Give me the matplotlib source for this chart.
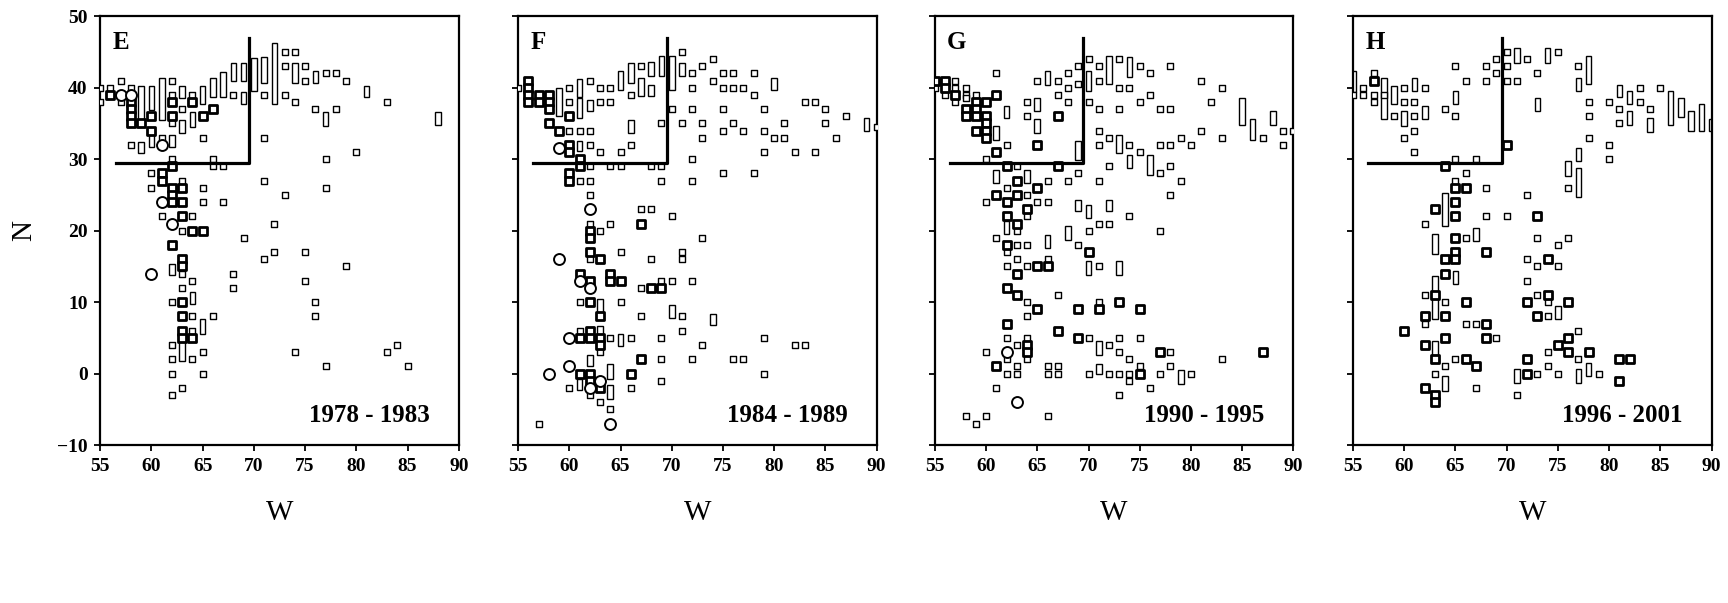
import matplotlib
matplotlib.use("Agg")
import matplotlib.pyplot as plt

plt.rcParams['font.family'] = ['Liberation Serif', 'DejaVu Serif']

# ---- panel E : 1978 - 1983 ----
e_thin = [(73, 45), (74, 45), (73, 43), (75, 43), (75, 41), (68, 39), (64, 39), (65, 33), (66, 30), (66, 29),
          (67, 29), (65, 26), (65, 24), (67, 24), (63, 37), (62, 41), (62, 39), (62, 35), (61, 33), (58, 40),
          (58, 32), (57, 41), (57, 38), (56, 40), (55, 40), (55, 38), (60, 28), (60, 26), (62, 30), (63, 27),
          (61, 22), (64, 22), (63, 20), (69, 19), (63, 14), (64, 13), (63, 12), (62, 10), (64, 8), (66, 8),
          (62, 4), (62, 2), (64, 2), (65, 3), (62, 0), (65, 0), (63, -2), (62, -3), (71, 39), (73, 39),
          (74, 38), (77, 42), (78, 42), (79, 41), (83, 38), (76, 37), (78, 37), (71, 33), (80, 31), (77, 30),
          (77, 26), (71, 27), (73, 25), (72, 21), (71, 16), (72, 17), (75, 17), (75, 13), (79, 15), (68, 14),
          (68, 12), (76, 10), (76, 8), (74, 3), (77, 1), (83, 3), (84, 4), (85, 1), (64, 6)]
e_bold = [(66, 37), (65, 36), (64, 38), (62, 38), (62, 36), (60, 36), (60, 34), (59, 35), (58, 38), (58, 37),
          (58, 36), (58, 35), (56, 39), (61, 28), (61, 27), (62, 29), (62, 26), (62, 25), (62, 24), (63, 26),
          (63, 24), (63, 22), (64, 20), (65, 20), (62, 18), (63, 16), (63, 15), (63, 10), (63, 8), (63, 6),
          (63, 5), (64, 5)]
e_circ = [(57, 39), (58, 39), (61, 32), (61, 24), (62, 21), (60, 14)]
e_bars = [(72, 37.7, 46.3), (71, 40.6, 44.3), (70, 39.6, 44.2), (69, 41, 43.4), (69, 37.7, 39.4),
          (68, 41, 43.4), (67, 38.7, 42.2), (66, 38.7, 41.3), (65, 37.7, 40.2), (64, 34.5, 36.6),
          (63, 38.6, 40.2), (63, 33.6, 35.5), (62, 31.7, 33.4), (61, 35.5, 41.3), (60, 36.9, 40.2),
          (60, 31.7, 33.8), (59, 34.5, 40.2), (59, 30.8, 32.4), (62, 13.8, 15.4), (64, 9.8, 11.4),
          (65, 5.6, 7.6), (63, 1.7, 4.7), (74, 40.6, 43.4), (76, 40.6, 42.4), (81, 38.7, 40.3),
          (88, 34.8, 36.6), (77, 34.6, 36.6)]

# ---- panel F : 1984 - 1989 ----
f_thin = [(71, 45), (74, 44), (73, 43), (72, 42), (67, 43), (66, 39), (75, 42), (76, 42), (78, 42), (74, 41),
          (75, 40), (76, 40), (77, 40), (78, 39), (72, 40), (83, 38), (84, 38), (85, 37), (85, 35), (87, 36),
          (90, 34.5), (79, 37), (76, 35), (77, 34), (81, 35), (70, 37), (72, 37), (75, 37), (69, 35), (71, 35),
          (73, 35), (73, 33), (75, 34), (79, 34), (80, 33), (81, 33), (86, 33), (79, 31), (82, 31), (84, 31),
          (72, 30), (72, 27), (69, 27), (75, 28), (78, 28), (68, 29), (69, 29), (64, 29), (65, 29), (65, 31),
          (55, 40), (60, 40), (62, 41), (63, 40), (64, 40), (60, 38), (63, 38), (64, 38), (60, 34), (61, 34),
          (62, 34), (66, 32), (62, 32), (63, 31), (62, 29), (61, 27), (62, 27), (62, 25), (67, 23), (68, 23),
          (70, 22), (62, 21), (64, 21), (63, 20), (73, 19), (71, 17), (62, 16), (65, 17), (68, 16), (71, 16),
          (67, 12), (69, 13), (70, 13), (72, 13), (61, 10), (65, 10), (71, 8), (67, 8), (61, 6), (64, 5),
          (66, 5), (71, 6), (69, 5), (79, 5), (73, 4), (82, 4), (83, 4), (63, 3), (69, 2), (72, 2), (76, 2),
          (77, 2), (79, 0), (60, -2), (66, -2), (69, -1), (62, -3), (63, -4), (64, -5), (57, -7)]
f_bold = [(56, 41), (56, 40), (56, 39), (56, 38), (57, 39), (57, 38), (58, 39), (58, 38), (58, 37), (58, 35),
          (59, 34), (60, 36), (60, 32), (60, 31), (61, 30), (61, 29), (60, 28), (60, 27), (62, 20), (62, 19),
          (62, 17), (63, 16), (67, 21), (61, 14), (64, 14), (64, 13), (65, 13), (62, 13), (68, 12), (69, 12),
          (62, 10), (63, 8), (62, 6), (62, 5), (61, 5), (63, 5), (63, 4), (67, 2), (61, 0), (62, 0), (66, 0),
          (62, -1), (63, -2)]
f_circ = [(59, 31.5), (62, 23), (59, 16), (61, 13), (62, 12), (60, 5), (60, 1), (58, 0), (62, -2), (63, -1),
          (64, -7)]
f_bars = [(71, 41.6, 43.5), (70, 39.7, 44.4), (69, 41.6, 44.4), (68, 41.6, 43.6), (66, 40.6, 43.5),
          (65, 39.7, 42.3), (67, 38.8, 41.3), (68, 38.8, 40.4), (80, 39.7, 41.4), (89, 33.9, 35.8),
          (59, 36, 39.9), (61, 38.7, 41.2), (61, 35.8, 38.6), (62, 36.7, 38.3), (66, 33.7, 35.5),
          (61, 31.2, 32.6), (63, 8, 10.5), (70, 7.8, 9.6), (74, 6.8, 8.4), (63, 4, 6.6), (65, 3.8, 5.5),
          (64, -0.7, 1.4), (61, -2.3, -0.7), (64, -3.5, -1.6), (62, 1.0, 2.6)]

# ---- panel G : 1990 - 1995 ----
g_thin = [(70, 44), (69, 43), (71, 43), (73, 44), (75, 43), (76, 42), (78, 43), (81, 41), (83, 40), (82, 38),
          (71, 41), (69, 40.5), (68, 42), (68, 40), (67, 39), (68, 38), (70, 38), (61, 42), (65, 41), (67, 41),
          (73, 40), (74, 40), (76, 39), (75, 38), (71, 37), (73, 37), (77, 37), (78, 37), (71, 34), (81, 34),
          (79, 33), (83, 33), (87, 33), (89, 34), (90, 34), (89, 32), (71, 32), (72, 33), (74, 32), (75, 31),
          (77, 32), (78, 32), (80, 32), (72, 29), (71, 27), (77, 28), (78, 29), (79, 27), (78, 25), (64, 38),
          (64, 36), (62, 32), (60, 30), (63, 29), (66, 27), (68, 27), (69, 28), (62, 26), (64, 25), (60, 24),
          (65, 24), (66, 24), (71, 21), (72, 21), (74, 22), (77, 20), (70, 20), (64, 22), (63, 20), (61, 19),
          (63, 18), (64, 18), (69, 18), (62, 17), (63, 16), (62, 15), (64, 15), (66, 16), (71, 15), (64, 10),
          (67, 11), (71, 10), (64, 8), (62, 5), (64, 5), (70, 5), (73, 5), (75, 5), (63, 4), (60, 3), (62, 2),
          (64, 2), (72, 4), (73, 3), (74, 2), (78, 3), (83, 2), (63, 1), (66, 1), (67, 1), (75, 1), (74, 0),
          (72, 0), (62, 0), (63, 0), (66, 0), (67, 0), (70, 0), (73, 0), (74, -1), (77, 0), (78, 1), (80, 0),
          (61, -2), (76, -2), (73, -3), (58, -6), (59, -7), (60, -6), (66, -6),
          (55, 40), (56, 39), (57, 41), (57, 40), (58, 40), (58, 39), (59, 39), (57, 38), (58, 38.5)]
g_bold = [(55, 41), (56, 41), (56, 40), (57, 39), (58, 37), (58, 36), (59, 38), (59, 37), (59, 36), (59, 34),
          (60, 38), (60, 36), (60, 35), (60, 34), (60, 33), (61, 39), (61, 31), (67, 36), (65, 32), (67, 29),
          (62, 29), (63, 27), (65, 26), (61, 25), (63, 25), (62, 24), (64, 23), (62, 22), (63, 21), (62, 18),
          (70, 17), (63, 14), (65, 15), (66, 15), (62, 12), (63, 11), (65, 9), (69, 9), (71, 9), (73, 10),
          (75, 9), (62, 7), (67, 6), (69, 5), (64, 4), (64, 3), (77, 3), (87, 3), (61, 1), (75, 0)]
g_circ = [(62, 3), (63, -4)]
g_bars = [(70, 39.6, 42.3), (72, 40.5, 44.4), (74, 41.5, 44.3), (66, 40.4, 42.3), (85, 34.8, 38.6),
          (86, 32.7, 35.6), (88, 34.8, 36.7), (73, 30.8, 33.4), (74, 28.8, 30.6), (76, 27.8, 30.6),
          (61, 32.7, 34.6), (62, 35.8, 37.5), (65, 36.7, 38.6), (65, 33.7, 35.6), (69, 29.9, 32.5),
          (61, 26.7, 28.5), (64, 26.7, 28.5), (69, 22.7, 24.3), (70, 21.8, 23.6), (72, 22.7, 24.3),
          (62, 19.6, 21.3), (68, 18.7, 20.6), (66, 17.6, 19.4), (70, 13.8, 15.7), (73, 13.8, 15.7),
          (71, 2.6, 4.5), (71, 0, 1.3), (79, -1.4, 0.5)]

# ---- panel H : 1996 - 2001 ----
h_thin = [(70, 45), (69, 44), (72, 44), (75, 45), (70, 43), (68, 43), (65, 43), (69, 42), (70, 41), (71, 41),
          (68, 41), (66, 41), (73, 42), (77, 43), (65, 36), (64, 37), (78, 38), (78, 36), (78, 33), (80, 38),
          (81, 37), (81, 35), (83, 40), (83, 38), (85, 40), (84, 37), (80, 32), (80, 30), (76, 26), (57, 42),
          (55, 39), (56, 39), (57, 39), (58, 39), (56, 40), (57, 38), (60, 40), (62, 40), (60, 38), (61, 38),
          (59, 36), (61, 36), (60, 33), (61, 34), (61, 31), (65, 30), (67, 30), (66, 28), (65, 27), (68, 26),
          (72, 25), (68, 22), (70, 22), (62, 21), (66, 19), (73, 19), (76, 19), (75, 18), (72, 16), (73, 15),
          (75, 15), (72, 13), (62, 11), (73, 11), (74, 10), (64, 10), (62, 7), (74, 8), (66, 7), (67, 7),
          (77, 6), (69, 5), (74, 3), (77, 2), (65, 2), (64, 1), (74, 1), (63, 0), (73, 0), (75, 0), (79, 0),
          (67, -2), (71, -3)]
h_bold = [(57, 41), (70, 32), (64, 29), (65, 26), (66, 26), (65, 24), (63, 23), (65, 22), (73, 22), (65, 19),
          (68, 17), (65, 17), (64, 16), (65, 16), (74, 16), (64, 14), (63, 11), (74, 11), (72, 10), (76, 10),
          (66, 10), (73, 8), (62, 8), (64, 8), (68, 7), (60, 6), (64, 5), (68, 5), (76, 5), (62, 4), (75, 4),
          (76, 3), (78, 3), (63, 2), (66, 2), (67, 1), (72, 2), (81, 2), (82, 2), (72, 0), (81, -1), (62, -2),
          (63, -3), (63, -4)]
h_circ = []
h_bars = [(71, 43.4, 45.5), (74, 43.4, 45.5), (78, 40.5, 44.4), (77, 39.6, 41.4), (65, 37.7, 39.5),
          (73, 36.7, 38.6), (81, 38.7, 40.4), (82, 37.7, 39.5), (82, 34.8, 36.8), (84, 33.8, 35.7),
          (86, 34.8, 39.5), (87, 35.9, 38.6), (88, 33.9, 36.8), (89, 33.9, 37.7), (90, 33.9, 35.6),
          (77, 29.8, 31.6), (76, 27.7, 29.8), (77, 24.7, 28.7), (55, 39.4, 42.3), (58, 35.6, 41.4),
          (59, 37.7, 40.3), (61, 39.6, 41.4), (60, 34.7, 36.8), (62, 35.6, 37.5), (64, 20.7, 25.3),
          (63, 16.7, 19.5), (67, 18.6, 20.4), (65, 12.5, 14.3), (63, 7.6, 13.6), (75, 7.6, 9.4),
          (63, 2.6, 4.5), (71, -1.3, 0.6), (77, -1.3, 0.6), (78, -0.4, 1.5), (64, -2.5, -0.4)]

letters = ['E', 'F', 'G', 'H']
periods = ['1978 - 1983', '1984 - 1989', '1990 - 1995', '1996 - 2001']
panels = [(e_thin, e_bold, e_circ, e_bars), (f_thin, f_bold, f_circ, f_bars),
          (g_thin, g_bold, g_circ, g_bars), (h_thin, h_bold, h_circ, h_bars)]

# corner of the boxed region
box_x = [56.5, 69.5, 69.5]
box_y = [29.5, 29.5, 47]

fig = plt.figure(figsize=(17.28, 6.03), dpi=100)
lefts = [0.058, 0.2998, 0.541, 0.783]

for i, (thin, bold, circ, bars) in enumerate(panels):
    ax = fig.add_axes([lefts[i], 0.262, 0.2075, 0.711])
    if bars:
        bx, blo, bhi = zip(*bars)
        ax.bar(bx, [h - l for l, h in zip(blo, bhi)], bottom=blo, width=0.55,
               fill=False, edgecolor='k', linewidth=1.0, zorder=2)
    tx, ty = zip(*thin)
    ax.scatter(tx, ty, marker='s', s=25, facecolors='white', edgecolors='k', linewidths=1.0, zorder=3)
    bxs, bys = zip(*bold)
    ax.scatter(bxs, bys, marker='s', s=34, facecolors='white', edgecolors='k', linewidths=2.0, zorder=4)
    if circ:
        cx, cy = zip(*circ)
        ax.scatter(cx, cy, marker='o', s=62, facecolors='white', edgecolors='k', linewidths=1.4, zorder=5)
    ax.plot(box_x, box_y, color='k', linewidth=2.3, zorder=6)

    ax.set_xlim(55, 90)
    ax.set_ylim(-10, 50)
    ax.set_xticks(range(55, 91, 5))
    ax.set_yticks(range(-10, 51, 10))
    for sp in ax.spines.values():
        sp.set_linewidth(1.6)
    ax.tick_params(direction='out', length=4, width=1.3, labelsize=14, pad=5)
    for lab in ax.get_xticklabels() + ax.get_yticklabels():
        lab.set_fontweight('bold')
    if i == 0:
        ax.set_ylabel('N', fontsize=21, labelpad=14)
    else:
        ax.tick_params(labelleft=False)
    ax.set_xlabel('W', fontsize=21, labelpad=18)

    ax.text(0.034, 0.965, letters[i], transform=ax.transAxes, fontsize=18,
            fontweight='bold', ha='left', va='top')
    ax.text(0.92, 0.07, periods[i], transform=ax.transAxes, fontsize=18,
            fontweight='bold', ha='right', va='center')

fig.savefig('out.png', dpi=100)
